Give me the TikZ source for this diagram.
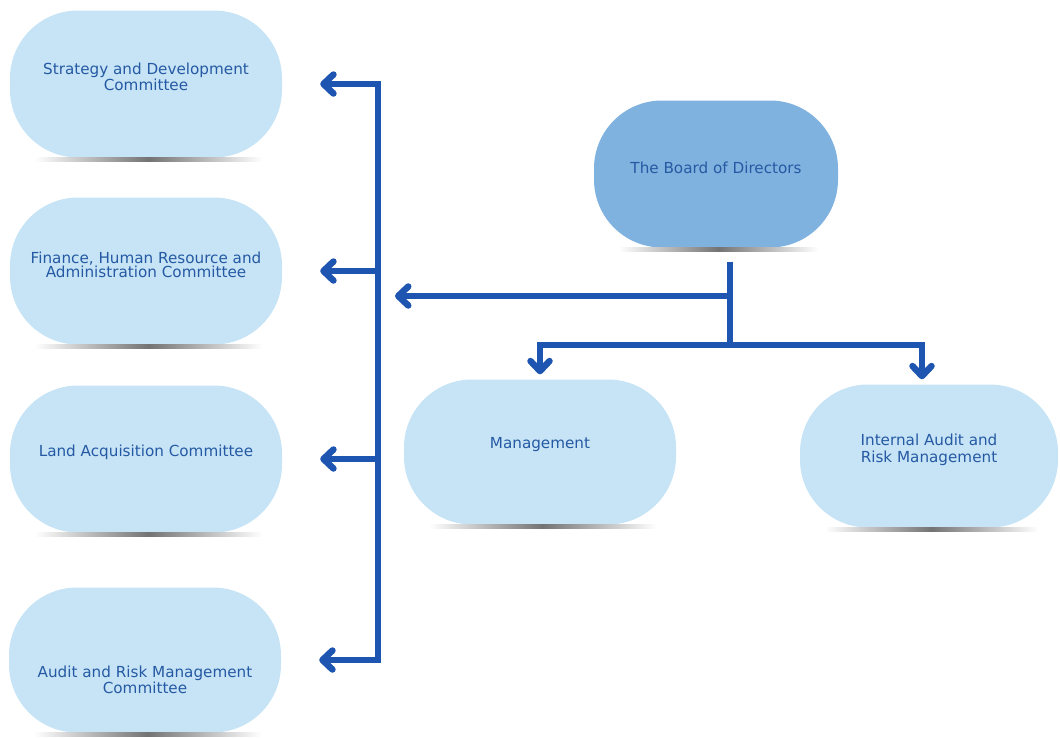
\documentclass[tikz,border=0pt]{standalone}
\usepackage{fontspec}
\setmainfont{DejaVu Sans}
\usetikzlibrary{arrows.meta}
\definecolor{pillblue}{HTML}{C6E4F6}
\definecolor{boardblue}{HTML}{80B2DF}
\definecolor{inkblue}{HTML}{2559A3}
\definecolor{linkblue}{HTML}{1E55B0}
\begin{document}
\begin{tikzpicture}[x=1pt, y=-1pt,
  font=\fontsize{15.2}{14.5}\selectfont,
  pill/.style={rounded corners=68pt, minimum width=272pt,
               minimum height=147pt, inner sep=0pt, fill=#1},
  pill/.default=pillblue,
  caption/.style={align=center, text=inkblue},
  ground/.style={shade, left color=white, right color=white,
                 middle color=black!55},
  link/.style={draw=linkblue, line width=6.5pt,
               >={Straight Barb[length=10pt, width=19pt, round]}}
]
  \useasboundingbox (0,0) rectangle (1060,737);
  \node[pill] (strat) at (146, 84) {};
  \node[caption] (strattxt) at (146, 77) {Strategy and Development\\Committee};
  \node[pill] (fin) at (146, 271) {};
  \node[caption] (fintxt) at (146, 265) {Finance, Human Resource and\\Administration Committee};
  \node[pill] (land) at (146, 459) {};
  \node[caption] (landtxt) at (146, 452) {Land Acquisition Committee};
  \node[pill, minimum height=145pt] (audit) at (145, 660) {};
  \node[caption] (audittxt) at (145, 680) {Audit and Risk Management\\Committee};
  \node[pill=boardblue, minimum width=244pt] (board) at (716, 174) {};
  \node[caption] (boardtxt) at (716, 168) {The Board of Directors};
  \node[pill, minimum height=145pt] (mgmt) at (540, 452) {};
  \node[caption] (mgmttxt) at (540, 445) {Management};
  \node[pill, minimum width=258pt, minimum height=143pt] (intaudit) at (929, 456) {};
  \node[caption, font=\fontsize{15.2}{17}\selectfont] (intaudittxt) at (929, 450)
        {Internal Audit and\\Risk Management};
  \foreach \b in {strat, fin, land, audit, board, mgmt, intaudit}
    \fill[ground] ([xshift=25pt]\b.south west) rectangle ([xshift=-20pt, yshift=-4pt]\b.south east);
  \coordinate (bus) at (378, 0);
  \coordinate (hub) at (730, 296);
  \coordinate (split) at (730, 345);
  \coordinate (bdtip) at (395, 296);
  \draw[link, <->] ([xshift=38pt]strat.east) -- (strat.east -| bus)
        -- (audit.east -| bus) -- ([xshift=38pt]audit.east);
  \draw[link, ->] (fin.east -| bus) -- ([xshift=38pt]fin.east);
  \draw[link, ->] (land.east -| bus) -- ([xshift=38pt]land.east);
  \draw[link] (board.south -| hub) ++(0, 14) -- (split);
  \draw[link, ->] (hub) -- (bdtip);
  \draw[link, ->] (split) -| ([yshift=5pt]mgmt.north);
  \draw[link, ->] (split) -| ([xshift=-7pt, yshift=5pt]intaudit.north);
\end{tikzpicture}
\end{document}
